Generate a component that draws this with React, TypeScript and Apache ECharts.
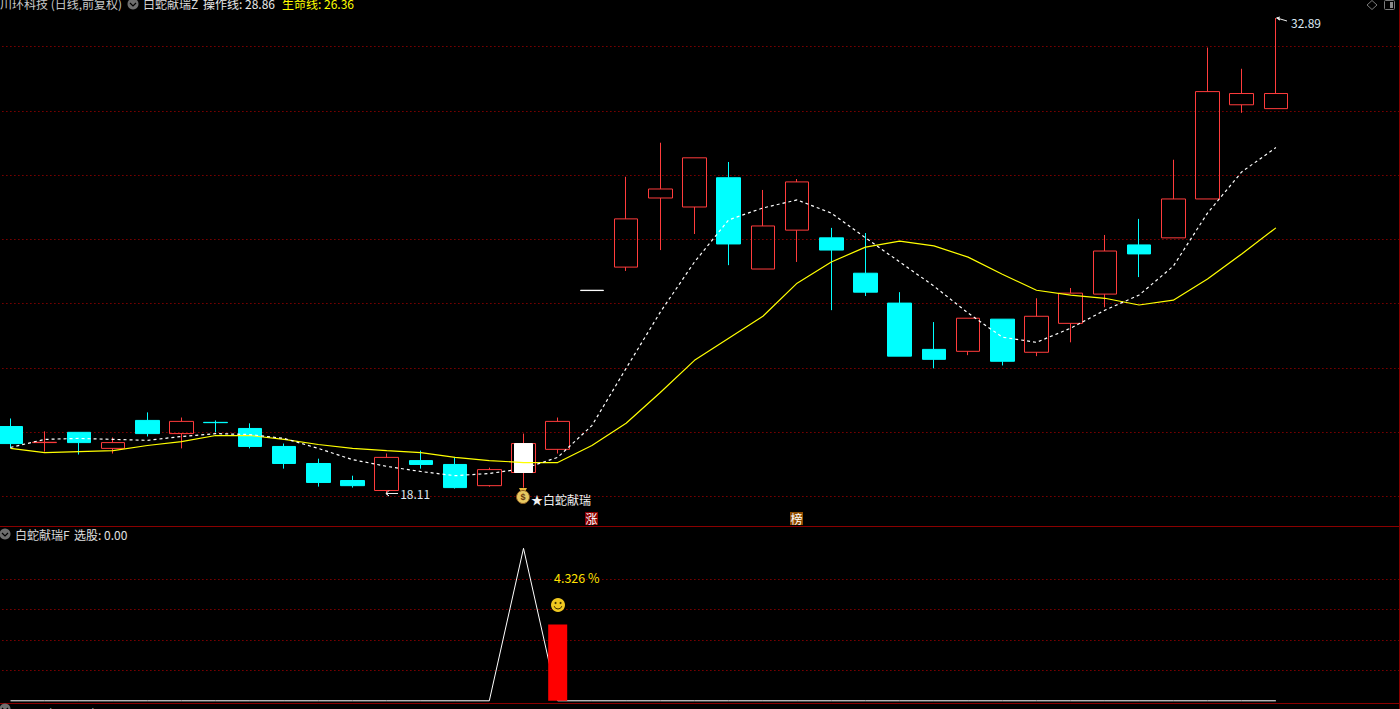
import React, { useEffect, useRef } from "react";
import * as echarts from "echarts";

const categories = Array.from({ length: 42 }, (_, i) => `K${i + 1}`);

const opens = [20.18, 19.68, 20.0, 19.5, 20.37, 19.96, 20.31, 20.12, 19.56, 19.03, 18.5, 18.19, 19.12, 19.0, 18.34, 18.75, 19.47, 24.41, 25.14, 27.29, 27.01, 27.92, 25.08, 26.29, 26.05, 24.95, 24.02, 22.58, 22.52, 23.52, 22.49, 23.39, 24.3, 25.83, 26.05, 27.26, 30.19, 30.07];
const closes = [19.65, 19.69, 19.68, 19.68, 19.96, 20.34, 20.3, 19.56, 19.03, 18.44, 18.34, 19.22, 19.0, 18.28, 18.84, 19.65, 20.34, 24.42, 26.64, 27.57, 28.54, 25.86, 26.42, 27.79, 25.67, 24.36, 22.37, 22.27, 23.55, 22.21, 23.61, 24.33, 25.64, 25.55, 27.26, 30.6, 30.54, 30.54];
const lows = [19.5, 19.4, 19.31, 19.34, 19.87, 19.5, 20.0, 19.5, 18.87, 18.31, 18.28, 18.11, 18.87, 18.25, 18.31, 18.28, 19.34, 24.41, 25.02, 25.67, 26.17, 25.2, 25.08, 25.3, 23.8, 24.24, 22.37, 21.99, 22.4, 22.08, 22.37, 22.8, 23.89, 24.83, 26.05, 27.26, 29.94, 30.07];
const highs = [20.43, 20.03, 20.0, 19.84, 20.62, 20.46, 20.37, 20.28, 19.65, 19.18, 18.65, 19.34, 19.43, 19.22, 18.9, 19.96, 20.46, 24.42, 27.95, 29.01, 28.54, 28.41, 27.54, 27.88, 26.36, 26.2, 24.36, 23.43, 23.55, 23.52, 24.17, 24.49, 26.14, 26.64, 28.48, 31.97, 31.31, 32.89];

const operationLine = [19.53, 19.78, 19.81, 19.78, 19.75, 19.87, 19.96, 19.93, 19.81, 19.5, 19.15, 18.94, 18.78, 18.65, 18.72, 18.87, 19.22, 20.21, 21.99, 23.74, 25.3, 26.61, 26.98, 27.23, 26.82, 26.05, 25.3, 24.55, 23.71, 22.96, 22.8, 23.24, 23.8, 24.27, 25.17, 26.82, 28.1, 28.86];
const lifeLine = [19.5, 19.37, 19.4, 19.43, 19.59, 19.71, 19.9, 19.9, 19.78, 19.62, 19.5, 19.43, 19.37, 19.22, 19.12, 19.06, 19.06, 19.59, 20.28, 21.24, 22.24, 22.93, 23.61, 24.64, 25.3, 25.76, 25.95, 25.8, 25.45, 24.92, 24.42, 24.27, 24.17, 23.96, 24.11, 24.77, 25.55, 26.36];

const signalLine = [0, 0, 0, 0, 0, 0, 0, 0, 0, 0, 0, 0, 0, 0, 0, 5, 0, 0, 0, 0, 0, 0, 0, 0, 0, 0, 0, 0, 0, 0, 0, 0, 0, 0, 0, 0, 0, 0];
const gainBars = [null, null, null, null, null, null, null, null, null, null, null, null, null, null, null, null, 2.5];

const SIGNAL_INDEX = 15;
const FLAT_INDEX = 17;
const LOW_INDEX = 11;

const RED = "#FF3C3C";
const CYAN = "#00FFFF";
const GRID = "#C00000";
const BORDER = "#8A0000";
const FONT = '12px "Noto Sans CJK SC", "Noto Sans", sans-serif';

const text = (t: string, x: number, y: number, fill: string, extra: any = {}) => ({
  type: "text",
  x,
  y,
  silent: true,
  z: 20,
  style: { text: t, fill, font: FONT, verticalAlign: "middle", align: "left", ...extra },
});

const chevron = (cx: number, cy: number) => [
  { type: "circle", z: 20, silent: true, shape: { cx, cy, r: 5.5 }, style: { fill: "#6E6E6E" } },
  {
    type: "polyline",
    z: 21,
    silent: true,
    shape: { points: [[cx - 3, cy - 1], [cx, cy + 2], [cx + 3, cy - 1]] },
    style: { stroke: "#000", lineWidth: 1.2, fill: "none" },
  },
];

const hline = (y: number) => ({
  type: "line",
  z: 15,
  silent: true,
  shape: { x1: 0, y1: y, x2: 1400, y2: y },
  style: { stroke: BORDER, lineWidth: 1 },
});

const badge = (label: string, x: number, fill: string) => [
  { type: "rect", z: 20, silent: true, shape: { x, y: 512, width: 13, height: 13 }, style: { fill } },
  text(label, x + 0.5, 518.8, "#FFFFFF"),
];

const graphics: any[] = [
  hline(526.5),
  hline(703.5),
  {
    type: "line",
    z: 15,
    silent: true,
    shape: { x1: 1399.5, y1: 0, x2: 1399.5, y2: 709 },
    style: { stroke: BORDER, lineWidth: 1 },
  },
  text("川环科技 (日线,前复权)", 0, 3.5, "#C8C8C8"),
  ...chevron(133, 4),
  text("白蛇献瑞Z", 143, 3.5, "#D8D8D8"),
  text("操作线: 28.86", 203, 3.5, "#E8E8E8"),
  text("生命线: 26.36", 282, 3.5, "#FFFF00"),
  ...chevron(5, 534),
  text("白蛇献瑞F", 15, 534.5, "#D8D8D8"),
  text("选股: 0.00", 74, 534.5, "#E0E0E0"),
  ...chevron(5, 709),
  text("MACD(12,26,9)", 15, 712, "#D8D8D8"),
  text("DIF: 1.87", 107, 712, "#E0E0E0"),
  text("DEA: 1.41", 162, 712, "#FFFF00"),
  text("MACD: 1.12", 222, 712, "#FF00FF"),
  {
    type: "polygon",
    z: 20,
    silent: true,
    shape: { points: [[1372, 0.5], [1377, 5], [1372, 9.5], [1367, 5]] },
    style: { stroke: "#7A7A7A", fill: "none", lineWidth: 1 },
  },
  {
    type: "rect",
    z: 20,
    silent: true,
    shape: { x: 1384.5, y: 0.5, width: 10, height: 9, r: 1 },
    style: { stroke: "#7A7A7A", fill: "none", lineWidth: 1 },
  },
  { type: "rect", z: 20, silent: true, shape: { x: 1390, y: 2, width: 3, height: 6 }, style: { fill: "#8A8A8A" } },
  {
    type: "polyline",
    z: 20,
    silent: true,
    shape: { points: [[1280, 17], [1276.5, 18], [1280, 20], [1277, 18], [1287, 21]] },
    style: { stroke: "#EDEDED", lineWidth: 1, fill: "none" },
  },
  text("32.89", 1291, 22, "#DCE8F2"),
  {
    type: "polyline",
    z: 20,
    silent: true,
    shape: { points: [[389, 490.5], [386, 493.5], [389, 496], [386, 493.5], [398, 493.5]] },
    style: { stroke: "#EDEDED", lineWidth: 1, fill: "none" },
  },
  {
    type: "polygon",
    z: 20,
    silent: true,
    shape: { points: [[519, 488], [527, 488], [525, 492], [521, 492]] },
    style: { fill: "#E8B838" },
  },
  { type: "circle", z: 20, silent: true, shape: { cx: 523, cy: 497, r: 6.5 }, style: { fill: "#E8C860", stroke: "#8A5A20", lineWidth: 1 } },
  text("$", 520.5, 497, "#6A3A10", { font: 'bold 9px "Liberation Sans", sans-serif' }),
  text("★白蛇献瑞", 531, 499.5, "#F0F0F0"),
  ...badge("涨", 585, "#8A0000"),
  ...badge("榜", 790, "#8F4C00"),
  text("4.326 %", 554, 577.5, "#FFE000", { font: '12.5px "Noto Sans CJK SC", "Noto Sans", sans-serif' }),
  { type: "circle", z: 20, silent: true, shape: { cx: 558, cy: 605, r: 7 }, style: { fill: "#F0C820" } },
  { type: "circle", z: 21, silent: true, shape: { cx: 555.5, cy: 603, r: 1 }, style: { fill: "#3A2A00" } },
  { type: "circle", z: 21, silent: true, shape: { cx: 560.5, cy: 603, r: 1 }, style: { fill: "#3A2A00" } },
  {
    type: "arc",
    z: 21,
    silent: true,
    shape: { cx: 558, cy: 605, r: 4, startAngle: 0.3, endAngle: Math.PI - 0.3 },
    style: { stroke: "#3A2A00", lineWidth: 1, fill: "none" },
  },
];

const hiddenAxis = { show: false };
const gridDots = { color: GRID, type: [1, 3], dashOffset: 3.4, width: 1 };

export default function App() {
  const ref = useRef<HTMLDivElement>(null);

  useEffect(() => {
    document.body.style.margin = "0";
    document.body.style.background = "#000";
    document.body.style.overflow = "hidden";
    const chart = echarts.init(ref.current!, null, { renderer: "svg" });
    const candles = opens.map((o, i) => {
      const value = [o, closes[i], lows[i], highs[i]];
      if (i === FLAT_INDEX) {
        return {
          value,
          itemStyle: { color: "#fff", color0: "#fff", borderColor: "#fff", borderColor0: "#fff" },
        };
      }
      return value;
    });
    const signalCandle = opens.map((o, i) =>
      i === SIGNAL_INDEX ? [o, closes[i], o, closes[i]] : ["-", "-", "-", "-"]
    );
    const annotation = (index: number, value: number, label: string, dx: number, dy: number) => ({
      coord: [index, value],
      symbol: "circle",
      symbolSize: 1,
      itemStyle: { color: "transparent" },
      label: {
        show: true,
        formatter: label,
        position: "right",
        distance: 0,
        offset: [dx, dy],
        color: "#DCE8F2",
        fontSize: 12,
        fontFamily: '"Noto Sans CJK SC", "Noto Sans", sans-serif',
      },
    });
    chart.setOption({
      animation: false,
      backgroundColor: "#000",
      grid: [
        { left: -6.6, width: 1436.4, top: 46.6, height: 450, outerBoundsMode: "none" },
        { left: -6.6, width: 1436.4, top: 578.8, height: 122, outerBoundsMode: "none" },
      ],
      xAxis: [
        { type: "category", gridIndex: 0, data: categories, ...hiddenAxis },
        { type: "category", gridIndex: 1, data: categories, ...hiddenAxis },
      ],
      yAxis: [
        {
          type: "value",
          gridIndex: 0,
          min: 18,
          max: 32,
          interval: 2,
          axisLine: { show: false },
          axisTick: { show: false },
          axisLabel: { show: false },
          splitLine: { show: true, lineStyle: gridDots },
        },
        {
          type: "value",
          gridIndex: 1,
          min: 0,
          max: 4,
          interval: 1,
          axisLine: { show: false },
          axisTick: { show: false },
          axisLabel: { show: false },
          splitLine: { show: true, showMinLine: false, lineStyle: gridDots },
        },
      ],
      series: [
        {
          type: "candlestick",
          name: "K",
          xAxisIndex: 0,
          yAxisIndex: 0,
          barWidth: 24,
          clip: false,
          data: candles,
          itemStyle: {
            color: "transparent",
            color0: CYAN,
            borderColor: RED,
            borderColor0: CYAN,
            borderWidth: 1,
          },
          markPoint: {
            silent: true,
            data: [annotation(LOW_INDEX, lows[LOW_INDEX], "18.11", 13, 0)],
          },
          z: 3,
        },
        {
          type: "candlestick",
          name: "信号",
          xAxisIndex: 0,
          yAxisIndex: 0,
          barWidth: 18,
          clip: false,
          data: signalCandle,
          itemStyle: { color: "#fff", color0: "#fff", borderColor: "#fff", borderColor0: "#fff", borderWidth: 1 },
          z: 4,
        },
        {
          type: "line",
          name: "生命线",
          xAxisIndex: 0,
          yAxisIndex: 0,
          data: lifeLine,
          showSymbol: false,
          clip: false,
          lineStyle: { color: "#FFFF00", width: 1.2 },
          z: 5,
        },
        {
          type: "line",
          name: "操作线",
          xAxisIndex: 0,
          yAxisIndex: 0,
          data: operationLine,
          showSymbol: false,
          clip: false,
          lineStyle: { color: "#FFFFFF", width: 1.2, type: [3, 3] },
          z: 6,
        },
        {
          type: "line",
          name: "选股",
          xAxisIndex: 1,
          yAxisIndex: 1,
          data: signalLine,
          showSymbol: false,
          clip: false,
          lineStyle: { color: "#FFFFFF", width: 1 },
          z: 3,
        },
        {
          type: "bar",
          name: "涨幅",
          xAxisIndex: 1,
          yAxisIndex: 1,
          data: gainBars,
          barWidth: 19,
          itemStyle: { color: "#FF0000" },
          z: 4,
        },
      ],
      graphic: graphics,
    });
    return () => chart.dispose();
  }, []);

  return <div ref={ref} style={{ position: "fixed", left: 0, top: 0, width: 1400, height: 709, background: "#000" }} />;
}
